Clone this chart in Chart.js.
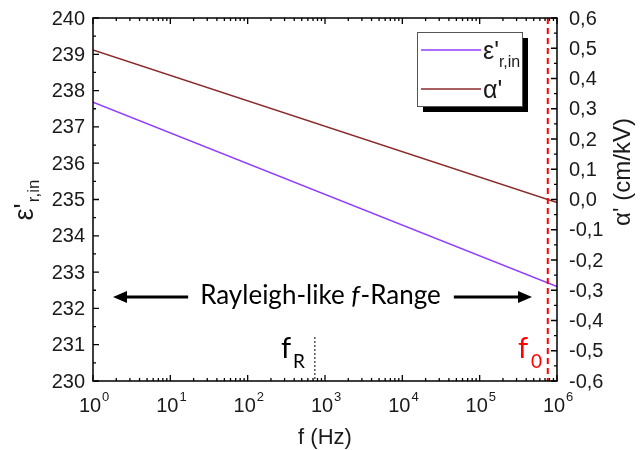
<!DOCTYPE html>
<html><head><meta charset="utf-8">
<script src="https://cdn.jsdelivr.net/npm/chart.js@4/dist/chart.umd.min.js"></script>
<style>html,body{margin:0;padding:0;background:#fff}#wrap{width:644px;height:450px}</style>
</head><body><div id="wrap"><canvas id="c" width="644" height="450"></canvas></div>
<script>
// ---- data ----
const freqHz = [1, 1e6];
const epsR = [237.68, 232.6];          // ε'r,in (left axis)
const alphaP = [0.494, -0.01];          // α' (cm/kV) (right axis)
const xTickValues = [1, 10, 100, 1e3, 1e4, 1e5, 1e6];
const xTickExps = ['0', '1', '2', '3', '4', '5', '6'];
const leftTickValues = [230, 231, 232, 233, 234, 235, 236, 237, 238, 239, 240];
const rightTickValues = [-0.6, -0.5, -0.4, -0.3, -0.2, -0.1, 0.0, 0.1, 0.2, 0.3, 0.4, 0.5, 0.6];
const fRayleigh = 740;
const fZero = 7.6e5;
const seriesNames = ["ε'", "α'"];

const PURPLE = '#8f3cff';
const BROWN = '#8b2a2a';
const SANS = '"Liberation Sans", Arial, sans-serif';
const TICKFONT = '20px ' + SANS;
const ANNOFONT = '"Lato", "Open Sans", sans-serif';
const TXT = '#1a1a1a';

function arrow(ctx, x1, y, x2) {
  const dir = x2 > x1 ? 1 : -1;
  ctx.save();
  ctx.strokeStyle = '#000'; ctx.fillStyle = '#000'; ctx.lineWidth = 3;
  ctx.beginPath(); ctx.moveTo(x1, y); ctx.lineTo(x2 - dir * 10, y); ctx.stroke();
  ctx.beginPath(); ctx.moveTo(x2, y); ctx.lineTo(x2 - dir * 14, y - 6); ctx.lineTo(x2 - dir * 14, y + 6); ctx.closePath(); ctx.fill();
  ctx.restore();
}

const decor = {
  id: 'decor',
  afterDatasetsDraw(chart) {
    const ctx = chart.ctx, a = chart.chartArea;
    const xs = chart.scales.x, yl = chart.scales.y, yr = chart.scales.y2;
    ctx.save();
    // fR dotted line
    const xr = xs.getPixelForValue(fRayleigh);
    ctx.strokeStyle = '#000'; ctx.lineWidth = 1; ctx.setLineDash([2, 2]);
    ctx.beginPath(); ctx.moveTo(xr, 337); ctx.lineTo(xr, a.bottom); ctx.stroke();
    // f0 red dashed line
    const x0 = xs.getPixelForValue(fZero);
    ctx.strokeStyle = '#ff0000'; ctx.lineWidth = 2; ctx.setLineDash([6, 4]);
    ctx.beginPath(); ctx.moveTo(x0, a.top); ctx.lineTo(x0, a.bottom); ctx.stroke();
    ctx.setLineDash([]);

    // frame
    ctx.strokeStyle = '#000'; ctx.lineWidth = 1.5;
    ctx.strokeRect(a.left, a.top, a.right - a.left, a.bottom - a.top);

    // ticks (inward)
    ctx.lineWidth = 1.3;
    ctx.beginPath();
    xTickValues.forEach(v => {
      const x = xs.getPixelForValue(v);
      ctx.moveTo(x, a.bottom); ctx.lineTo(x, a.bottom - 6);
      ctx.moveTo(x, a.top); ctx.lineTo(x, a.top + 6);
    });
    for (let d = 0; d < 6; d++) for (let m = 2; m <= 9; m++) {
      const x = xs.getPixelForValue(m * Math.pow(10, d));
      ctx.moveTo(x, a.bottom); ctx.lineTo(x, a.bottom - 3);
      ctx.moveTo(x, a.top); ctx.lineTo(x, a.top + 3);
    }
    leftTickValues.forEach((v, i) => {
      const y = yl.getPixelForValue(v);
      ctx.moveTo(a.left, y); ctx.lineTo(a.left + 6, y);
      if (i < leftTickValues.length - 1) {
        const ym = yl.getPixelForValue(v + 0.5);
        ctx.moveTo(a.left, ym); ctx.lineTo(a.left + 3, ym);
      }
    });
    rightTickValues.forEach((v, i) => {
      const y = yr.getPixelForValue(v);
      ctx.moveTo(a.right, y); ctx.lineTo(a.right - 6, y);
      if (i < rightTickValues.length - 1) {
        const ym = yr.getPixelForValue(v + 0.05);
        ctx.moveTo(a.right, ym); ctx.lineTo(a.right - 3, ym);
      }
    });
    ctx.stroke();

    // tick labels
    ctx.fillStyle = TXT;
    ctx.font = TICKFONT;
    ctx.textBaseline = 'middle';
    ctx.textAlign = 'right';
    leftTickValues.forEach(v => ctx.fillText(String(v), a.left - 8, yl.getPixelForValue(v) + 1));
    ctx.textAlign = 'left';
    rightTickValues.forEach(v => {
      const s = (Math.abs(v) < 1e-9 ? 0 : v).toFixed(1).replace('.', ',');
      ctx.fillText(s, a.right + 12, yr.getPixelForValue(v) + 1);
    });
    xTickValues.forEach((v, i) => {
      const x = xs.getPixelForValue(v);
      ctx.font = TICKFONT;
      const w = ctx.measureText('10').width;
      ctx.textAlign = 'left'; ctx.textBaseline = 'alphabetic';
      ctx.fillText('10', x - w / 2 - 3, 412);
      ctx.font = '13px ' + SANS;
      ctx.fillText(xTickExps[i], x + w / 2 - 2, 401);
    });

    // axis titles
    ctx.fillStyle = TXT;
    ctx.font = '22px ' + SANS;
    ctx.textAlign = 'center'; ctx.textBaseline = 'alphabetic';
    ctx.fillText('f (Hz)', 325, 444);
    // left title rotated
    ctx.save();
    ctx.translate(33, 200); ctx.rotate(-Math.PI / 2);
    ctx.textAlign = 'left';
    ctx.font = '27px ' + SANS;
    const eW = ctx.measureText("ε'").width;
    ctx.font = '17px ' + SANS;
    const sW = ctx.measureText('r,in').width;
    const start = -(eW + sW + 1) / 2;
    ctx.font = '27px ' + SANS;
    ctx.fillText("ε'", start, 0);
    ctx.font = '17px ' + SANS;
    ctx.fillText('r,in', start + eW + 1, 6);
    ctx.restore();
    // right title rotated
    ctx.save();
    ctx.translate(630, 172); ctx.rotate(-Math.PI / 2);
    ctx.font = '24px ' + SANS;
    ctx.textAlign = 'center';
    ctx.fillText("α' (cm/kV)", 0, 0);
    ctx.restore();

    // annotation
    ctx.fillStyle = '#000';
    ctx.font = '26px ' + ANNOFONT;
    ctx.textBaseline = 'middle';
    ctx.textAlign = 'left';
    const p1 = 'Rayleigh-like ', p2 = 'f', p3 = '-Range';
    const w1 = ctx.measureText(p1).width, w3 = ctx.measureText(p3).width;
    ctx.font = 'italic 26px ' + ANNOFONT;
    const w2 = ctx.measureText(p2).width;
    const total = w1 + w2 + w3;
    let tx = 320 - total / 2;
    const ty = 296;
    ctx.font = '26px ' + ANNOFONT; ctx.fillText(p1, tx, ty);
    ctx.font = 'italic 26px ' + ANNOFONT; ctx.fillText(p2, tx + w1, ty);
    ctx.font = '26px ' + ANNOFONT; ctx.fillText(p3, tx + w1 + w2 + 1, ty);
    arrow(ctx, tx - 12, ty + 1, a.left + 20);
    arrow(ctx, tx + total + 14, ty + 1, 532);

    // fR label
    ctx.textBaseline = 'alphabetic';
    ctx.font = '29px ' + ANNOFONT;
    ctx.fillText('f', 281, 358);
    ctx.font = '19px ' + ANNOFONT;
    ctx.fillText('R', 293, 368);
    // f0 label
    ctx.fillStyle = '#ff0000';
    ctx.font = '29px ' + ANNOFONT;
    ctx.fillText('f', 518, 358);
    ctx.font = '19px ' + ANNOFONT;
    ctx.fillText('0', 531, 368);

    // legend
    const lx = 417, ly = 32, lw = 105, lh = 74;
    ctx.fillStyle = '#000';
    ctx.fillRect(lx + 6, ly + 6, lw, lh);
    ctx.fillStyle = '#fff';
    ctx.fillRect(lx, ly, lw, lh);
    ctx.strokeStyle = '#555'; ctx.lineWidth = 1;
    ctx.strokeRect(lx + 0.5, ly + 0.5, lw, lh);
    ctx.lineWidth = 1.5;
    ctx.strokeStyle = PURPLE;
    ctx.beginPath(); ctx.moveTo(421, 50); ctx.lineTo(481, 50); ctx.stroke();
    ctx.strokeStyle = BROWN;
    ctx.beginPath(); ctx.moveTo(421, 89); ctx.lineTo(481, 89); ctx.stroke();
    ctx.fillStyle = TXT;
    ctx.font = '25px ' + SANS;
    ctx.textBaseline = 'alphabetic';
    ctx.fillText(seriesNames[0], 483, 59);
    const ew = ctx.measureText(seriesNames[0]).width;
    ctx.font = '16px ' + SANS;
    ctx.fillText('r,in', 483 + ew, 67);
    ctx.font = '25px ' + SANS;
    ctx.fillText(seriesNames[1], 483, 98);

    ctx.restore();
  }
};

new Chart(document.getElementById('c'), {
  type: 'line',
  data: {
    datasets: [
      { label: seriesNames[0], data: freqHz.map((f, i) => ({ x: f, y: epsR[i] })), yAxisID: 'y',
        borderColor: PURPLE, borderWidth: 1.5, pointRadius: 0, fill: false },
      { label: seriesNames[1], data: freqHz.map((f, i) => ({ x: f, y: alphaP[i] })), yAxisID: 'y2',
        borderColor: BROWN, borderWidth: 1.5, pointRadius: 0, fill: false }
    ]
  },
  options: {
    responsive: false, animation: false,
    layout: { padding: { left: 93, right: 87, top: 18, bottom: 69 } },
    scales: {
      x: { type: 'logarithmic', min: 1, max: 1e6, display: false },
      y: { min: 230, max: 240, display: false },
      y2: { min: -0.6, max: 0.6, display: false, position: 'right' }
    },
    plugins: { legend: { display: false }, tooltip: { enabled: false } }
  },
  plugins: [decor]
});
</script>
</body></html>
